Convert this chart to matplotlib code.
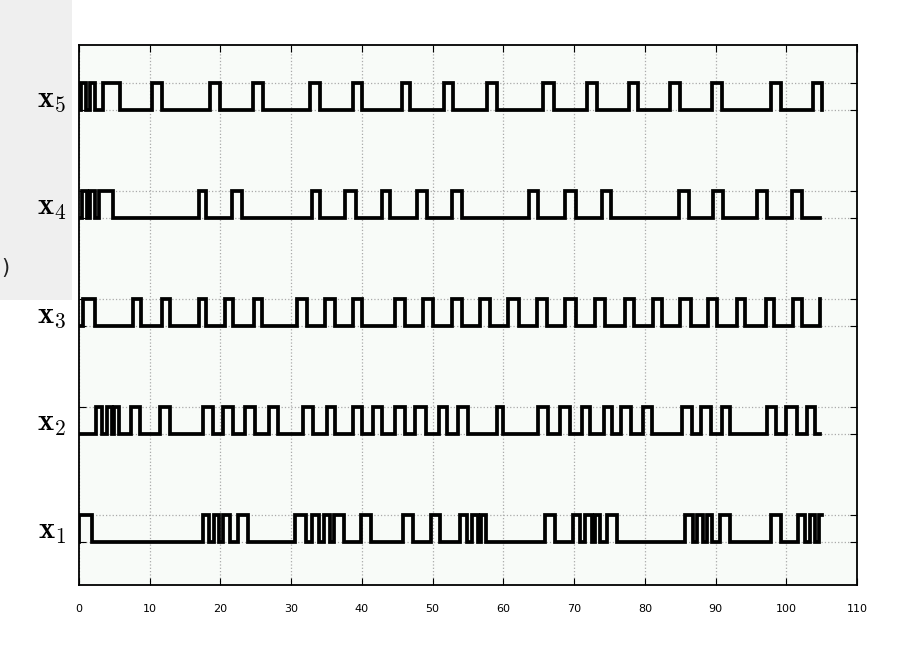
import numpy as np
import matplotlib.pyplot as plt
from matplotlib.patches import Rectangle

plt.rcParams['mathtext.fontset'] = 'cm'

# switching times (rise, fall, rise, ...)
x5_edges = [0.3, 1.0, 1.6, 2.3, 3.4, 5.75, 10.3, 11.7, 18.5, 19.9, 24.6, 26.0, 32.7, 34.1,
            38.8, 40.0, 45.6, 46.8, 51.6, 52.9, 57.7, 59.1, 65.6, 67.1, 71.8, 73.3,
            77.7, 79.1, 83.6, 85.0, 89.5, 90.9, 97.8, 99.2, 103.8, 105.0]
x5_end = 105.0

x4_edges = [0.4, 1.1, 1.6, 2.3, 2.8, 4.85, 16.9, 18.0, 21.6, 23.0, 32.9, 34.1, 37.6, 39.1,
            42.8, 44.0, 47.8, 49.2, 52.7, 54.1, 63.6, 64.9, 68.7, 70.2, 73.9, 75.2,
            84.8, 86.2, 89.7, 91.1, 95.9, 97.3, 100.8, 102.2]
x4_end = 104.8

x3_edges = [0.6, 2.3, 7.6, 8.8, 11.7, 12.9, 16.9, 18.0, 20.6, 21.8, 24.7, 25.9, 30.8, 32.2,
            34.8, 36.2, 38.8, 40.0, 44.7, 46.1, 48.7, 50.1, 52.7, 54.1, 56.7, 58.1,
            60.7, 62.2, 64.7, 66.1, 68.7, 70.2, 73.0, 74.4, 77.2, 78.4, 81.2, 82.4,
            85.0, 86.5, 89.0, 90.2, 93.0, 94.2, 97.1, 98.3, 101.0, 102.2, 104.8]
x3_end = 104.8

x2_edges = [2.45, 3.3, 3.9, 4.6, 5.0, 5.6, 7.4, 8.6, 11.4, 12.8, 17.5, 19.0,
            20.4, 21.8, 23.5, 24.9, 26.8, 28.2, 31.7, 33.1, 35.0, 36.2, 38.8, 40.0,
            41.6, 42.8, 44.7, 46.1, 47.5, 49.0, 50.9, 52.0, 53.6, 55.0, 59.1, 60.0,
            64.9, 66.3, 68.0, 69.4, 71.1, 72.3, 74.2, 75.4, 76.7, 78.1, 79.8, 81.0,
            85.3, 86.7, 88.0, 89.4, 90.9, 92.1, 97.3, 98.5, 100.0, 101.5, 102.9, 104.1]
x2_end = 104.8

x1_edges = [0.0, 1.9, 17.6, 18.4, 19.1, 19.8, 20.4, 21.3, 22.5, 23.9, 30.6, 32.1,
            33.0, 33.9, 34.6, 35.5, 36.1, 37.5, 39.9, 41.3, 45.8, 47.2, 49.7, 51.1,
            53.9, 54.8, 55.5, 56.4, 56.8, 57.5, 65.9, 67.3, 69.9, 70.9, 71.5, 72.5,
            73.0, 73.7, 74.7, 76.0, 85.7, 86.8, 87.4, 88.2, 88.8, 89.5, 90.6, 92.1,
            97.8, 99.2, 101.7, 102.7, 103.3, 104.1, 104.6]
x1_end = 105.0

signals = [x1_edges, x2_edges, x3_edges, x4_edges, x5_edges]
ends = [x1_end, x2_end, x3_end, x4_end, x5_end]
names = [r'$\mathbf{x}_1$', r'$\mathbf{x}_2$', r'$\mathbf{x}_3$', r'$\mathbf{x}_4$', r'$\mathbf{x}_5$']
xticks = list(range(0, 111, 10))


def wave(edges, end):
    t = [0.0]
    y = [0]
    lev = 0
    for e in edges:
        lev = 1 - lev
        t.append(e)
        y.append(lev)
    t.append(end)
    y.append(lev)
    return np.array(t), np.array(y)


fig = plt.figure(figsize=(8.97, 6.51), dpi=100)
fig.patches.append(Rectangle((0, 1 - 300 / 651), 72 / 897, 300 / 651, transform=fig.transFigure,
                             facecolor='#efefef', edgecolor='none', zorder=-5))
fig.text(0.001, 1 - 268 / 651, ')', fontsize=15, va='center', ha='left', color='#222222')

ax = fig.add_axes([79 / 897, 1 - 585 / 651, 778 / 897, 540 / 651])
ax.set_facecolor('#f8fbf8')

levels = []
for i, (ed, end) in enumerate(zip(signals, ends)):
    t, y = wave(ed, end)
    ax.step(t, y + 4 * i, where='post', color='black', lw=2.7, solid_joinstyle='miter')
    levels += [4 * i, 4 * i + 1]

ax.set_xlim(0, 110)
ax.set_ylim(-1.6, 18.4)
ax.set_xticks(xticks)
ax.set_xticklabels([str(v) for v in xticks], fontsize=8)
ax.set_yticks(levels)
ax.set_yticklabels([])
ax.set_yticks([4 * i + 0.5 for i in range(5)], minor=True)
ax.set_yticklabels(names, minor=True, fontsize=22)
ax.tick_params(axis='y', which='minor', length=0, pad=9)
ax.tick_params(axis='both', which='major', direction='in', top=True, right=True, length=5)
ax.tick_params(axis='x', which='major', pad=14)
ax.grid(True, which='major', linestyle=':', color='#aaaaaa', lw=0.9)
for s in ax.spines.values():
    s.set_linewidth(1.3)

fig.savefig('out.png', dpi=100)
